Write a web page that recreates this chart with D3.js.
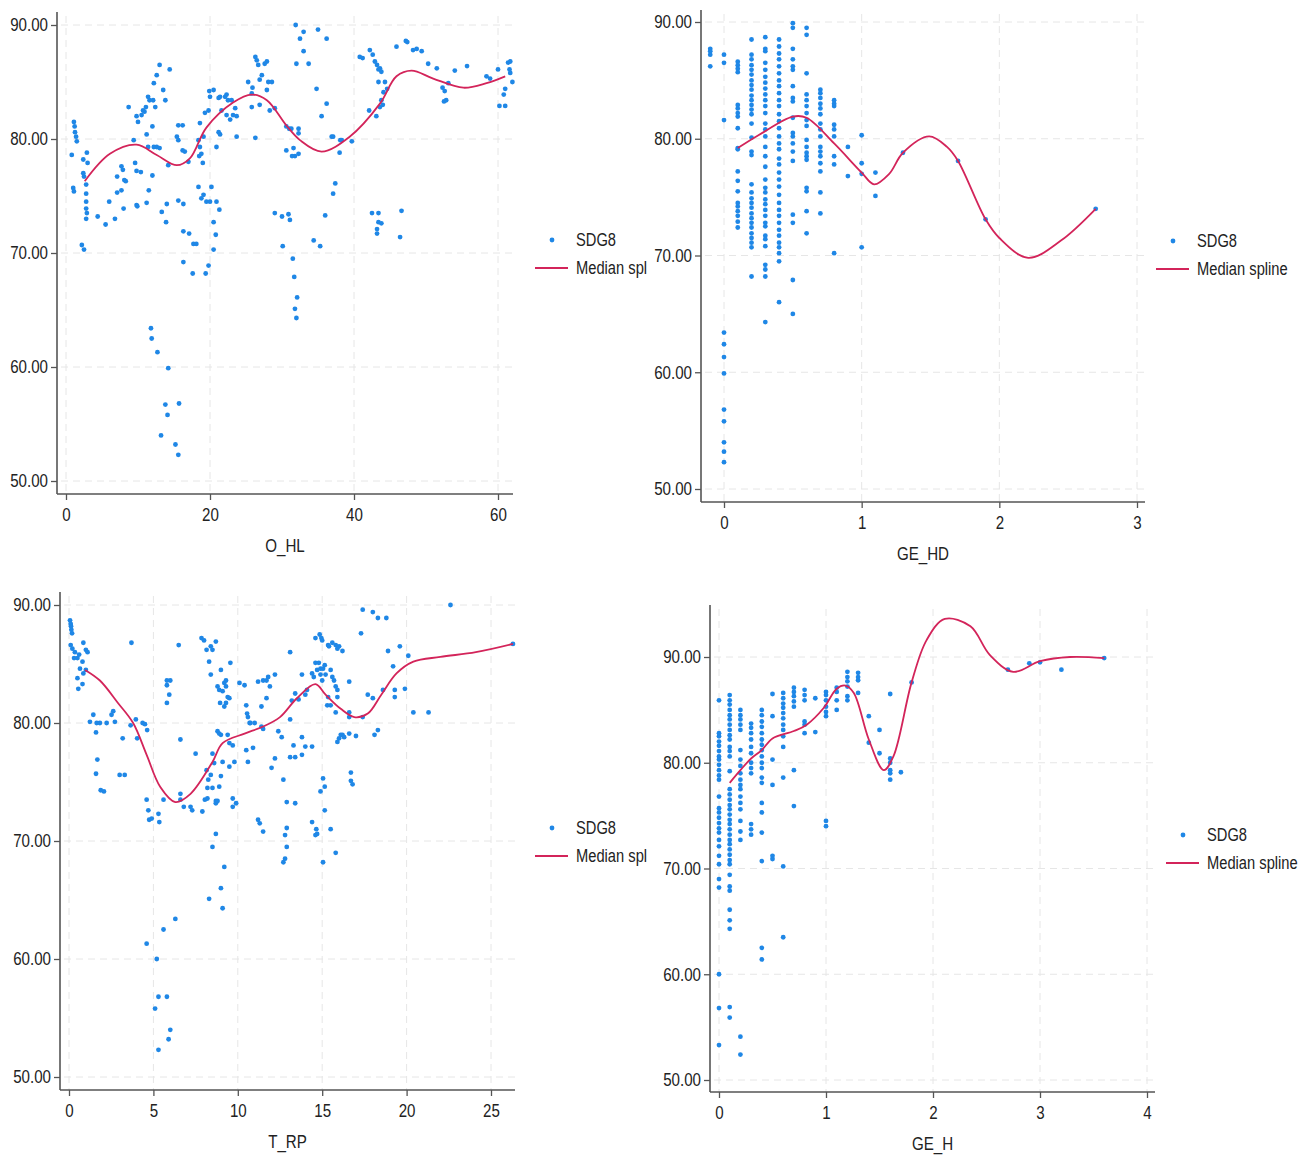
<!DOCTYPE html>
<html>
<head>
<meta charset="utf-8">
<script src="https://cdn.jsdelivr.net/npm/d3@7"></script>
<style>
  body { margin: 0; background: #fff; }
  svg text { font-family: "Liberation Sans", Arial, sans-serif; fill: #222; }
</style>
</head>
<body>
<div id="chart"></div>
<script>
// ---- data ----
var yTicks = [50, 60, 70, 80, 90];

// O_HL vs SDG8
var ohlPoints = [[0.8,78.6],[1.1,81.5],[1.2,81.1],[1.25,80.6],[1.4,80.2],[1.5,79.8],[1.0,75.7],[1.1,75.4],[2.4,78.2],[3.0,77.9],[2.9,78.8],[2.4,77.0],[2.5,76.7],[2.8,76.0],[2.8,75.2],[2.8,74.5],[2.8,73.9],[2.9,73.5],[2.8,73.0],[2.2,70.7],[2.5,70.3],[4.4,73.2],[5.5,72.5],[6.0,74.5],[6.8,73.0],[7.1,75.3],[7.7,75.5],[7.1,76.7],[7.7,77.6],[7.9,77.3],[8.1,76.4],[8.3,76.3],[8.0,73.9],[8.7,82.8],[9.4,79.9],[9.6,77.9],[9.8,77.2],[10.4,77.1],[9.8,74.2],[9.9,74.1],[9.8,82.0],[10.0,81.5],[10.5,82.1],[10.7,82.5],[10.9,82.4],[11.1,82.8],[11.2,80.4],[11.4,79.3],[11.5,75.5],[11.2,74.4],[11.4,83.7],[11.6,83.4],[12.1,83.4],[12.4,82.8],[12.0,81.1],[12.2,79.3],[12.6,79.3],[13.0,79.2],[12.0,76.8],[12.2,84.9],[12.6,85.6],[13.0,86.5],[13.5,84.3],[13.8,83.4],[14.4,86.1],[13.3,73.6],[13.9,72.7],[14.0,74.3],[14.2,77.7],[15.4,80.2],[15.6,79.9],[15.6,81.2],[16.2,81.2],[16.2,79.0],[16.5,78.9],[15.6,74.6],[16.3,74.3],[16.3,71.9],[17.1,71.7],[16.3,69.2],[17.6,68.2],[17.0,78.0],[17.7,70.8],[18.1,70.8],[18.4,79.9],[18.6,79.3],[18.8,78.7],[18.5,78.5],[19.0,77.9],[19.1,80.2],[18.6,81.4],[19.3,82.3],[19.8,82.5],[20.0,83.7],[19.9,84.2],[20.5,84.3],[21.2,83.6],[21.4,83.7],[21.6,82.5],[22.1,83.7],[22.3,83.9],[22.5,83.4],[22.3,82.1],[22.8,81.7],[23.2,82.1],[23.7,82.0],[23.5,82.7],[23.0,83.4],[23.7,80.2],[21.2,80.6],[21.4,80.4],[20.9,79.3],[18.4,75.8],[19.1,75.1],[18.8,74.8],[19.5,74.5],[20.0,74.5],[20.2,75.8],[20.9,74.5],[21.3,73.8],[20.5,72.7],[20.8,71.6],[20.5,70.3],[19.8,68.9],[19.4,68.2],[25.3,85.0],[25.8,84.0],[25.9,84.5],[26.3,87.2],[26.5,86.9],[26.7,86.5],[26.9,85.2],[27.2,85.6],[27.6,86.6],[27.9,86.8],[28.1,85.0],[28.6,85.0],[27.9,84.3],[28.3,82.5],[29.0,82.7],[25.8,82.8],[26.3,80.1],[26.9,83.0],[30.6,81.1],[31.0,80.9],[31.3,80.9],[32.3,80.9],[32.3,80.5],[30.6,79.0],[31.6,79.2],[31.8,78.5],[32.3,78.7],[31.4,78.5],[29.0,73.5],[30.0,73.2],[30.9,73.4],[31.1,72.9],[30.1,70.6],[31.5,69.5],[31.7,67.9],[31.9,90.0],[32.0,86.6],[32.5,88.8],[33.0,89.4],[33.0,87.7],[33.7,86.6],[35.0,89.6],[36.2,88.8],[34.8,84.4],[35.5,82.0],[36.2,83.1],[34.4,71.1],[35.3,70.6],[36.0,73.3],[32.1,66.1],[31.8,65.1],[32.0,64.3],[11.8,63.4],[11.9,62.5],[12.7,61.3],[14.2,59.9],[13.8,56.7],[15.7,56.8],[14.1,55.8],[13.2,54.0],[15.2,53.2],[15.6,52.3],[36.9,80.2],[37.1,80.2],[38.1,79.9],[38.3,79.9],[38.0,78.8],[39.7,79.8],[37.4,76.1],[37.1,75.2],[40.8,87.2],[41.2,87.1],[42.2,87.8],[42.6,87.4],[42.9,86.8],[43.2,86.5],[43.6,86.2],[43.8,85.9],[43.4,86.1],[43.4,85.0],[44.3,85.0],[44.1,84.1],[44.6,84.4],[43.8,83.4],[43.6,82.8],[44.0,83.0],[42.1,82.5],[43.1,82.0],[42.5,73.5],[43.4,73.5],[43.4,72.7],[43.8,72.6],[43.2,72.1],[43.2,71.7],[46.6,73.7],[46.4,71.4],[45.9,88.1],[47.2,88.6],[47.4,88.5],[48.2,87.8],[48.7,87.9],[49.4,87.7],[50.3,86.6],[51.5,86.2],[52.3,84.5],[52.6,84.2],[53.1,84.9],[52.8,83.4],[52.5,83.3],[54.0,86.0],[55.7,86.4],[58.4,85.5],[58.9,85.3],[60.0,86.1],[61.4,86.7],[61.7,86.8],[61.6,86.1],[61.7,85.8],[62.0,85.0],[61.0,84.4],[60.8,83.9],[60.2,82.9],[61.0,82.9]];
var ohlSplineX = [2.6, 6.1, 9.8, 12.6, 15.4, 17.2, 19.5, 23.2, 25.8, 27.9, 30.6, 32.5, 35.5, 39.4, 43.6, 45.9, 48, 51, 55.2, 58.4, 61];
var ohlSplineY = [76.3, 78.7, 79.5, 78.6, 77.7, 78.3, 81.0, 83.2, 83.9, 83.4, 81.2, 79.9, 78.9, 80.2, 83.1, 85.5, 86.0, 85.3, 84.5, 84.9, 85.5];

// GE_HD vs SDG8 (values stack in columns)
var geHdX = [-0.1, 0, 0.1, 0.2, 0.3, 0.4, 0.5, 0.6, 0.7, 0.8, 0.9, 1.0, 1.1, 1.3, 1.7, 1.9, 2.7];
var geHdY = [
  [87.7,87.5,87.2,86.2],
  [87.2,86.5,81.6,63.4,62.4,61.3,59.9,56.8,55.8,54.0,53.2,52.3],
  [86.6,86.3,86.0,85.7,82.9,82.6,82.2,81.9,80.9,79.2,79.1,77.2,76.4,75.5,74.5,74.2,73.8,73.4,72.9,72.4],
  [88.5,87.2,86.8,86.3,85.9,85.5,85.0,84.6,84.2,83.7,83.3,82.9,82.5,82.1,81.3,80.1,78.9,78.6,76.1,75.4,74.9,74.5,74.1,73.6,73.2,72.8,72.4,71.9,71.5,71.1,70.7,68.2],
  [88.7,87.7,87.5,86.5,85.9,85.3,84.8,84.3,83.8,83.3,82.8,82.2,81.3,80.8,80.2,79.3,78.5,77.6,76.5,75.8,75.4,74.8,74.4,73.9,73.4,72.8,72.5,71.7,71.4,70.8,69.2,68.8,68.2,64.3],
  [88.5,87.9,87.3,86.8,86.2,85.6,85.0,84.5,83.9,83.3,82.8,82.1,81.5,80.9,80.2,79.6,79.1,78.3,77.8,77.1,76.5,75.9,75.2,74.5,73.9,73.4,72.8,72.2,71.7,71.1,70.7,70.2,69.5,66.0],
  [89.9,89.5,87.7,86.8,86.2,85.9,84.5,83.5,83.2,81.8,80.5,80.2,79.6,78.9,78.1,73.5,72.8,67.9,65.0],
  [89.5,88.9,85.6,83.8,83.3,82.8,82.2,81.6,81.1,79.9,79.3,78.8,78.5,78.2,75.8,75.5,73.8,71.9],
  [84.2,83.9,83.5,83.0,82.6,82.1,81.3,80.8,80.2,79.3,78.9,78.5,77.9,77.2,75.4,73.6],
  [83.3,83.0,82.8,81.2,80.8,80.2,78.5,77.8,70.2],
  [79.3,76.8],
  [80.3,77.9,77.0,70.7],
  [77.1,75.1],
  [78.8],
  [78.1],
  [73.1],
  [74.0]
];
var geHdSplineX = [0.1, 0.25, 0.5, 0.6, 0.8, 1.0, 1.09, 1.2, 1.3, 1.49, 1.62, 1.7, 1.9, 2.0, 2.21, 2.45, 2.7];
var geHdSplineY = [79.2, 80.3, 81.9, 81.8, 79.6, 77.1, 76.1, 77.0, 78.8, 80.2, 79.3, 78.1, 73.1, 71.5, 69.8, 71.3, 74.0];

// T_RP vs SDG8
var trpPoints = [[0.06,88.7],[0.1,88.4],[0.12,88.2],[0.14,87.9],[0.18,87.6],[0.1,86.6],[0.2,86.3],[0.3,85.5],[0.5,85.5],[0.6,85.8],[0.35,86.0],[0.85,86.8],[1.0,86.2],[1.1,86.0],[0.8,85.2],[0.65,84.6],[0.5,83.8],[0.55,82.9],[0.8,83.3],[1.0,84.5],[0.85,84.2],[1.24,80.1],[1.44,80.7],[1.64,80.0],[1.83,80.0],[1.6,79.2],[1.68,76.9],[1.6,75.7],[1.88,74.3],[2.07,74.2],[2.23,80.0],[2.52,80.7],[2.62,81.0],[2.72,80.1],[3.18,78.7],[3.3,75.6],[3.0,75.6],[3.7,86.8],[3.65,79.8],[3.96,80.3],[4.04,78.7],[4.36,80.0],[4.5,79.9],[4.63,79.4],[4.6,73.5],[4.7,72.6],[4.9,71.9],[5.3,72.3],[5.35,71.6],[4.75,71.8],[5.6,73.5],[5.8,83.6],[6.0,83.6],[5.8,83.2],[5.94,82.4],[5.8,81.7],[6.5,86.6],[6.6,78.6],[6.6,74.0],[6.8,72.9],[7.2,72.9],[7.3,72.6],[7.5,77.4],[7.9,72.5],[6.6,73.5],[7.85,87.2],[8.0,87.0],[8.15,86.2],[8.3,85.2],[8.4,86.5],[8.5,86.2],[8.7,86.9],[8.4,84.1],[8.15,76.0],[8.25,75.2],[8.2,74.5],[8.05,73.5],[8.2,73.6],[8.4,75.6],[8.5,77.4],[8.6,76.6],[8.5,74.5],[8.7,73.4],[8.7,73.2],[8.8,73.4],[8.9,74.6],[9.0,75.5],[9.1,76.7],[8.7,70.6],[8.5,69.5],[9.2,67.8],[8.8,83.1],[8.9,82.8],[9.1,82.7],[9.3,83.1],[9.2,83.4],[9.4,82.2],[9.3,81.7],[9.5,82.1],[8.95,81.7],[9.2,81.4],[8.8,79.3],[9.0,79.0],[8.9,79.1],[9.56,85.1],[9.0,84.5],[9.3,83.6],[9.4,79.0],[9.5,78.3],[9.7,78.1],[9.8,76.7],[9.5,76.3],[9.7,73.6],[9.7,72.9],[9.9,73.2],[10.1,83.4],[10.4,83.2],[10.5,81.5],[10.55,80.8],[10.6,80.5],[10.7,80.0],[10.75,80.0],[11.0,80.0],[10.5,77.7],[10.9,77.9],[10.6,76.7],[11.2,83.5],[11.5,83.6],[11.7,83.6],[11.8,83.9],[11.7,82.1],[11.4,81.4],[11.9,83.1],[12.2,84.1],[11.2,71.8],[11.5,70.8],[11.3,71.5],[11.4,79.7],[11.5,79.5],[12.0,76.2],[12.2,77.0],[12.4,79.3],[12.6,78.8],[12.7,75.2],[12.9,73.3],[12.9,71.1],[12.8,70.5],[12.9,69.5],[12.8,68.5],[13.2,81.9],[13.1,77.1],[13.4,77.1],[13.3,78.1],[13.4,73.2],[13.8,77.3],[13.8,78.8],[13.1,86.0],[13.1,80.3],[13.4,82.5],[13.6,82.0],[13.8,84.1],[14.0,82.4],[14.1,82.8],[14.4,84.2],[14.5,83.9],[14.6,85.1],[14.7,84.5],[14.8,85.1],[14.9,84.1],[14.9,84.6],[15.0,83.6],[15.05,84.6],[15.15,84.9],[15.2,84.1],[14.0,78.0],[14.4,78.0],[14.6,87.2],[14.85,87.5],[14.95,87.2],[15.0,87.0],[15.35,86.6],[15.35,82.2],[15.3,81.5],[15.05,75.3],[15.15,74.6],[14.9,74.2],[15.15,72.6],[14.4,71.6],[14.65,71.0],[14.6,70.5],[14.7,70.6],[15.5,71.0],[15.8,69.0],[15.5,84.5],[15.6,83.9],[15.7,83.6],[15.8,83.1],[15.9,82.8],[15.9,82.2],[15.5,81.5],[15.8,80.9],[15.6,86.8],[15.8,86.6],[15.9,86.3],[16.0,86.5],[16.2,86.1],[15.4,86.5],[16.0,78.7],[16.1,79.0],[16.2,79.0],[16.3,78.8],[15.9,78.4],[16.6,79.1],[17.0,78.9],[16.7,75.8],[16.7,75.1],[16.8,74.8],[16.6,80.9],[16.6,80.5],[17.4,80.5],[16.6,83.5],[17.3,87.6],[17.4,89.6],[18.0,89.4],[18.3,88.9],[18.8,88.9],[17.7,82.4],[18.0,82.1],[18.1,79.0],[18.3,79.4],[18.6,82.8],[18.9,86.1],[19.2,84.8],[19.3,82.8],[19.3,82.2],[19.6,86.5],[19.9,82.9],[20.1,85.7],[20.4,80.9],[21.3,80.9],[22.6,90.0],[26.3,86.7],[9.0,66.0],[8.3,65.1],[9.1,64.3],[6.3,63.4],[5.6,62.5],[4.6,61.3],[5.2,60.0],[5.3,56.8],[5.8,56.8],[5.1,55.8],[6.0,54.0],[5.9,53.2],[5.3,52.3],[12.7,68.2],[15.05,68.2]];
var trpSplineX = [0.95, 1.83, 2.9, 3.8, 4.6, 5.4, 6.3, 7.2, 8.5, 9.1, 10.4, 11.5, 12.5, 13.5, 14.6, 15.2, 16.1, 16.9, 17.7, 18.5, 19.4, 20.4, 22.0, 24.1, 26.3];
var trpSplineY = [84.5, 83.6, 81.7, 80.0, 77.3, 74.6, 73.3, 74.0, 76.7, 78.3, 79.1, 79.7, 80.5, 82.1, 83.3, 82.4, 81.2, 80.5, 80.8, 82.4, 84.2, 85.2, 85.6, 86.0, 86.7];

// GE_H vs SDG8 (values stack in columns)
var geHX = [0, 0.1, 0.2, 0.3, 0.4, 0.5, 0.6, 0.7, 0.8, 0.9, 1.0, 1.1, 1.2, 1.3, 1.4, 1.5, 1.6, 1.7, 1.8, 2.7, 2.9, 3.0, 3.2, 3.6];
var geHY = [
  [85.9,82.8,82.5,82.0,81.6,81.1,80.6,80.3,79.8,79.3,78.8,78.4,76.8,75.7,75.3,74.8,74.3,73.8,73.4,72.7,72.1,71.2,70.4,69.0,68.2,60.0,56.8,53.3],
  [86.4,85.9,85.5,85.0,84.5,84.1,83.6,83.1,82.6,82.2,81.5,81.1,80.6,79.2,77.5,77.0,76.5,76.0,75.6,75.1,74.6,74.2,73.7,73.2,72.7,72.3,71.8,71.3,70.8,70.4,69.4,68.3,67.9,66.1,65.1,64.3,56.9,55.9],
  [85.0,84.5,84.1,83.6,83.1,81.2,80.3,79.7,79.0,78.4,77.9,77.5,76.8,76.2,75.6,74.5,73.5,72.7,54.1,52.4],
  [83.7,83.3,82.8,82.2,81.5,80.9,80.0,79.5,79.0,74.2,73.7,73.2],
  [85.0,84.5,83.9,83.4,82.8,82.2,81.7,81.2,80.6,80.0,79.5,78.6,78.1,76.2,75.3,73.4,70.7,62.5,61.4],
  [86.5,84.4,80.3,77.9,71.2,70.9],
  [86.6,86.1,85.6,85.2,84.7,84.2,83.6,83.1,82.5,81.5,78.6,70.2,63.5],
  [87.1,86.7,86.3,85.8,85.3,79.3,75.9],
  [86.9,86.4,85.9,83.9,83.6,82.8],
  [86.1,82.9],
  [86.7,86.4,85.9,85.3,84.8,84.4,74.5,74.0],
  [87.1,86.7,85.9,85.0],
  [88.6,88.1,87.7,87.2,86.3,85.9],
  [88.5,88.1,87.8,86.6],
  [84.4,81.9],
  [83.1,80.9],
  [86.5,80.4,80.0,79.3,79.0,78.4],
  [79.1],
  [87.6],
  [88.8],
  [89.4],
  [89.5],
  [88.8],
  [89.9]
];
var geHSplineX = [0.1, 0.2, 0.3, 0.4, 0.5, 0.7, 0.82, 0.98, 1.1, 1.18, 1.26, 1.4, 1.54, 1.63, 1.8, 1.94, 2.11, 2.35, 2.53, 2.75, 3.0, 3.28, 3.6];
var geHSplineY = [78.1, 79.3, 80.4, 81.2, 82.3, 83.0, 83.6, 85.2, 87.0, 87.3, 86.6, 82.2, 79.3, 80.6, 87.6, 91.6, 93.6, 92.9, 90.2, 88.6, 89.6, 90.0, 89.9];

var seriesLabel = "SDG8";
var dotColor = "#1f87e6",
    splineColor = "#d3245a",
    axisColor = "#555",
    gridColor = "#e6e6e6";

function columnsToPoints(xs, cols) {
  var out = [];
  xs.forEach(function (x, i) {
    cols[i].forEach(function (y) { out.push([x, y]); });
  });
  return out;
}

var svg = d3.select('#chart').append('svg')
  .attr('width', 1314).attr('height', 1155)
  .style('background', '#fff');

var panels = [
  { title: 'O_HL', points: ohlPoints, sx: ohlSplineX, sy: ohlSplineY,
    left: 57, right: 513, top: 12, bottom: 494,
    xDomain: [0, 60], xRange: [66, 498], yRange: [481, 25], xTicks: [0, 20, 40, 60],
    legX: 552, legY: 240, lineLabel: 'Median spl' },
  { title: 'GE_HD', points: columnsToPoints(geHdX, geHdY), sx: geHdSplineX, sy: geHdSplineY,
    left: 701, right: 1145, top: 10, bottom: 502,
    xDomain: [0, 3], xRange: [724, 1137], yRange: [489, 22], xTicks: [0, 1, 2, 3],
    legX: 1173, legY: 241, lineLabel: 'Median spline' },
  { title: 'T_RP', points: trpPoints, sx: trpSplineX, sy: trpSplineY,
    left: 60, right: 515, top: 592, bottom: 1090,
    xDomain: [0, 25], xRange: [69, 491], yRange: [1077, 605], xTicks: [0, 5, 10, 15, 20, 25],
    legX: 552, legY: 828, lineLabel: 'Median spl' },
  { title: 'GE_H', points: columnsToPoints(geHX, geHY), sx: geHSplineX, sy: geHSplineY,
    left: 710, right: 1155, top: 605, bottom: 1092,
    xDomain: [0, 4], xRange: [719, 1147], yRange: [1080, 657], xTicks: [0, 1, 2, 3, 4],
    legX: 1183, legY: 835, lineLabel: 'Median spline' }
];

panels.forEach(drawPanel);

// the original uses a narrow face, squeeze the glyphs horizontally
svg.selectAll('text').each(function () {
  var w = this.getComputedTextLength();
  this.setAttribute('textLength', (w * 0.84).toFixed(1));
  this.setAttribute('lengthAdjust', 'spacingAndGlyphs');
});

function drawPanel(p) {
  var x = d3.scaleLinear().domain(p.xDomain).range(p.xRange);
  var y = d3.scaleLinear().domain([50, 90]).range(p.yRange);
  var g = svg.append('g');

  // dashed grid
  g.append('g').selectAll('line.hg').data(yTicks).enter().append('line')
    .attr('x1', p.left + 4).attr('x2', p.right)
    .attr('y1', function (d) { return y(d); }).attr('y2', function (d) { return y(d); })
    .attr('stroke', gridColor).attr('stroke-dasharray', '7,5');
  g.append('g').selectAll('line.vg').data(p.xTicks).enter().append('line')
    .attr('y1', p.top + 4).attr('y2', p.bottom)
    .attr('x1', function (d) { return x(d); }).attr('x2', function (d) { return x(d); })
    .attr('stroke', gridColor).attr('stroke-dasharray', '7,5');

  // axes
  var yAxis = d3.axisLeft(y).tickValues(yTicks).tickFormat(d3.format('.2f')).tickSize(6).tickPadding(3);
  var yg = g.append('g').attr('transform', 'translate(' + p.left + ',0)').call(yAxis);
  yg.select('.domain').attr('d', 'M0,' + p.top + 'V' + p.bottom);

  var xAxis = d3.axisBottom(x).tickValues(p.xTicks).tickFormat(d3.format('d')).tickSize(6).tickPadding(8);
  var xg = g.append('g').attr('transform', 'translate(0,' + p.bottom + ')').call(xAxis);
  xg.select('.domain').attr('d', 'M' + p.left + ',0H' + p.right);

  [yg, xg].forEach(function (a) {
    a.selectAll('.domain').attr('stroke', axisColor).attr('stroke-width', 1.6);
    a.selectAll('.tick line').attr('stroke', axisColor).attr('stroke-width', 1.3);
    a.selectAll('.tick text').style('font-size', '18px').attr('fill', '#222');
  });

  // axis title
  g.append('text')
    .attr('x', (p.left + p.right) / 2).attr('y', p.bottom + 58)
    .attr('text-anchor', 'middle').style('font-size', '18px')
    .text(p.title);

  // scatter
  g.append('g').selectAll('circle').data(p.points).enter().append('circle')
    .attr('cx', function (d) { return x(d[0]); })
    .attr('cy', function (d) { return y(d[1]); })
    .attr('r', 2.4)
    .attr('fill', dotColor);

  // median spline
  var spline = p.sx.map(function (v, i) { return [v, p.sy[i]]; });
  g.append('path').datum(spline)
    .attr('fill', 'none').attr('stroke', splineColor).attr('stroke-width', 1.8)
    .attr('d', d3.line()
      .x(function (d) { return x(d[0]); })
      .y(function (d) { return y(d[1]); })
      .curve(d3.curveCatmullRom.alpha(0.5)));

  // legend
  var lg = g.append('g');
  lg.append('circle').attr('cx', p.legX).attr('cy', p.legY).attr('r', 2.4).attr('fill', dotColor);
  lg.append('text').attr('x', p.legX + 24).attr('y', p.legY + 6).style('font-size', '17.5px').text(seriesLabel);
  lg.append('line')
    .attr('x1', p.legX - 17).attr('x2', p.legX + 16)
    .attr('y1', p.legY + 28).attr('y2', p.legY + 28)
    .attr('stroke', splineColor).attr('stroke-width', 2);
  lg.append('text').attr('x', p.legX + 24).attr('y', p.legY + 34).style('font-size', '17.5px').text(p.lineLabel);
}
</script>
</body>
</html>
